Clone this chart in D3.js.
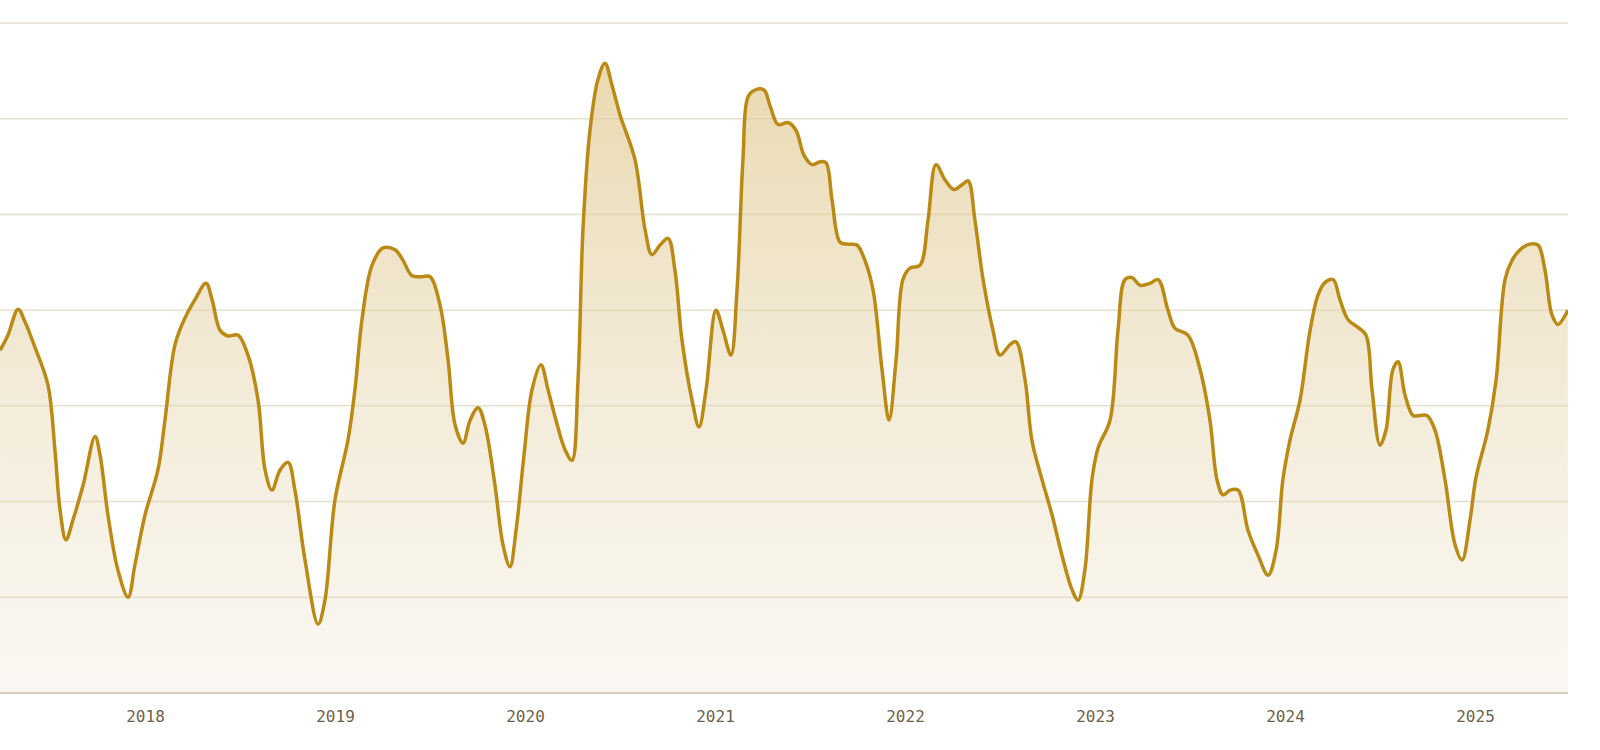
<!DOCTYPE html>
<html>
<head>
    <script src="https://d3js.org/d3.v7.min.js"></script>
    <style>
        body { margin: 0; background: #fff; }
        .tick text { font: 16px "DejaVu Sans Mono", monospace; fill: #6e5f4c; }
    </style>
</head>
<body>
<svg width="1600" height="750"></svg>
<script>
    // decimal year, value
    var years = [2017.237,2017.279,2017.332,2017.368,2017.421,2017.489,2017.526,2017.553,2017.584,2017.621,2017.674,2017.737,2017.763,2017.805,2017.858,2017.911,2017.947,
        2018.000,2018.068,2018.105,2018.158,2018.211,2018.263,2018.321,2018.353,2018.395,2018.437,2018.489,2018.542,2018.595,2018.632,2018.668,2018.711,2018.753,2018.789,2018.842,2018.911,2018.947,
        2019.000,2019.068,2019.105,2019.142,2019.195,2019.253,2019.316,2019.358,2019.405,2019.458,2019.500,2019.553,2019.595,2019.632,2019.674,2019.711,2019.753,2019.789,2019.842,2019.884,2019.921,2019.953,2019.995,
        2020.037,2020.084,2020.121,2020.163,2020.211,2020.247,2020.279,2020.305,2020.342,2020.384,2020.421,2020.458,2020.500,2020.579,2020.632,2020.668,2020.711,2020.753,2020.789,2020.826,2020.879,2020.916,2020.953,
        2021.005,2021.042,2021.084,2021.116,2021.147,2021.174,2021.211,2021.258,2021.289,2021.332,2021.384,2021.426,2021.468,2021.511,2021.553,2021.584,2021.616,2021.658,2021.700,2021.747,2021.789,2021.832,2021.879,2021.916,2021.953,2021.989,
        2022.026,2022.079,2022.121,2022.163,2022.211,2022.258,2022.300,2022.332,2022.368,2022.411,2022.463,2022.500,2022.553,2022.584,2022.632,2022.668,2022.721,2022.774,2022.826,2022.879,2022.911,2022.947,2022.984,
        2023.016,2023.079,2023.121,2023.158,2023.195,2023.237,2023.289,2023.332,2023.384,2023.421,2023.489,2023.553,2023.605,2023.642,2023.674,2023.711,2023.753,2023.805,2023.858,2023.911,2023.953,2023.989,
        2024.026,2024.079,2024.132,2024.174,2024.211,2024.253,2024.289,2024.332,2024.384,2024.426,2024.458,2024.500,2024.532,2024.568,2024.595,2024.632,2024.674,2024.711,2024.747,2024.789,2024.842,2024.895,2024.932,2024.974,
        2025.005,2025.068,2025.111,2025.158,2025.195,2025.237,2025.289,2025.332,2025.368,2025.405,2025.437,2025.489];
    var values = [35.8,37.4,40.1,38.8,36.1,32.2,25.4,19.1,16.0,18.1,21.7,26.8,24.9,18.6,12.8,10.0,13.4,
        18.6,23.3,28.5,36.4,39.2,41.1,42.8,41.1,37.9,37.3,37.4,35.3,30.6,23.3,21.2,23.3,24.1,21.2,13.9,7.2,9.7,
        20.2,26.4,31.7,39.0,44.7,46.5,46.3,45.2,43.6,43.5,43.5,40.5,34.8,28.0,26.1,28.5,29.8,28.0,21.7,15.5,13.2,17.0,24.9,
        31.7,34.3,31.7,28.5,25.4,24.3,32.7,48.4,58.8,64.1,65.8,63.5,60.4,55.7,48.4,45.8,46.8,47.5,44.2,36.9,30.6,27.8,31.7,
        40.0,37.9,35.3,42.1,55.7,62.3,63.0,63.0,61.4,59.4,59.6,58.8,56.2,55.2,55.5,55.4,51.5,47.1,46.9,46.8,45.2,42.1,33.8,28.5,34.8,43.2,
        44.4,44.7,49.4,55.2,53.6,52.6,53.1,53.5,49.4,43.2,37.9,35.3,36.4,36.7,32.7,26.4,22.3,18.6,14.4,10.8,9.7,12.9,22.3,
        25.6,28.5,37.9,43.2,43.4,42.6,42.8,43.2,40.0,38.1,37.4,33.8,28.5,22.3,20.7,21.2,21.2,17.0,14.4,12.3,14.9,22.3,
        26.4,30.6,37.9,41.6,42.9,43.2,41.1,39.0,38.2,37.4,31.7,25.9,27.5,33.8,34.6,31.1,29.0,29.0,29.0,27.5,22.3,15.5,13.9,18.1,
        22.5,27.5,32.7,43.2,45.2,46.3,46.9,46.8,44.2,39.5,38.5,40.0];
    var tickYears = [2018, 2019, 2020, 2021, 2022, 2023, 2024, 2025];
    var gridValues = [0, 10, 20, 30, 40, 50, 60, 70];

    var data = years.map((y, i) => ({x: y, v: values[i]}));

    var svg = d3.select("svg");
    var x = d3.scaleLinear().domain([2018, 2025]).range([145, 1475]);
    var y = d3.scaleLinear().domain([0, 70]).range([693, 23]);

    var defs = svg.append("defs");
    var grad = defs.append("linearGradient").attr("id", "fillGrad")
        .attr("x1", 0).attr("y1", 0).attr("x2", 0).attr("y2", 1);
    grad.append("stop").attr("offset", "0%").attr("stop-color", "#e3cd96").attr("stop-opacity", 0.75);
    grad.append("stop").attr("offset", "100%").attr("stop-color", "#e8dcc0").attr("stop-opacity", 0.2);
    defs.append("clipPath").attr("id", "clip").append("rect")
        .attr("x", 0).attr("y", 0).attr("width", 1568).attr("height", 750);

    // gridlines
    svg.append("g").selectAll("line").data(gridValues).join("line")
        .attr("x1", 0).attr("x2", 1568)
        .attr("y1", d => y(d)).attr("y2", d => y(d))
        .attr("stroke", d => d === 0 ? "#d6ccb8" : "#e6e0cf")
        .attr("stroke-width", d => d === 0 ? 2 : 1.5);

    var curve = d3.curveCatmullRom.alpha(0.5);
    var g = svg.append("g").attr("clip-path", "url(#clip)");
    g.append("path").datum(data)
        .attr("fill", "url(#fillGrad)")
        .attr("d", d3.area().curve(curve).x(d => x(d.x)).y0(y(0)).y1(d => y(d.v)));
    g.append("path").datum(data)
        .attr("fill", "none").attr("stroke", "#bb8a14").attr("stroke-width", 3.5)
        .attr("stroke-linejoin", "round")
        .attr("d", d3.line().curve(curve).x(d => x(d.x)).y(d => y(d.v)));

    var axis = svg.append("g").attr("transform", "translate(0," + y(0) + ")")
        .call(d3.axisBottom(x).tickValues(tickYears).tickFormat(d3.format("d")).tickSize(0).tickPadding(18));
    axis.select(".domain").remove();
</script>
</body>
</html>
